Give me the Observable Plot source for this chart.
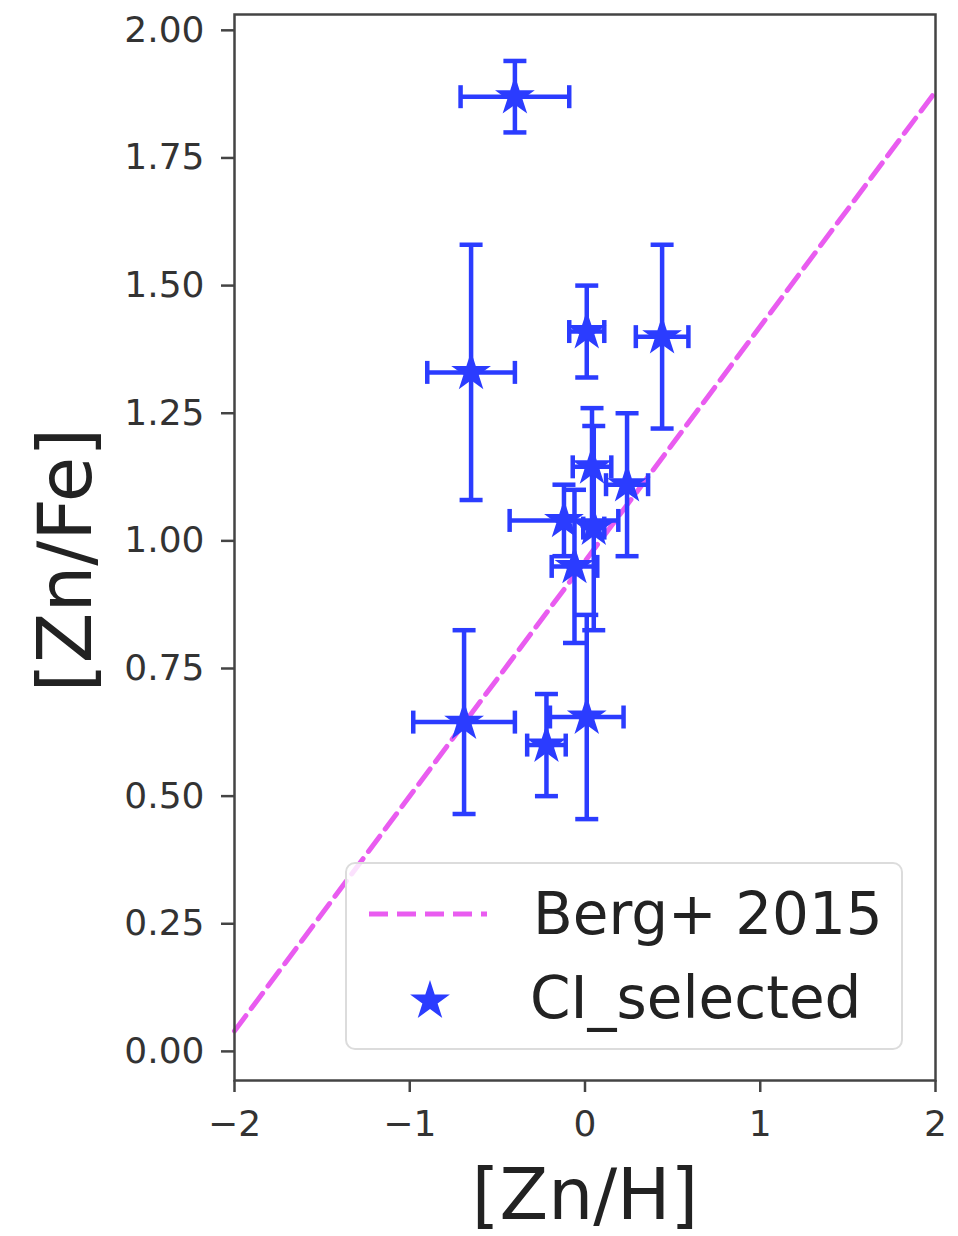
<!DOCTYPE html>
<html>
<head>
<meta charset="utf-8">
<script src="https://cdn.jsdelivr.net/npm/d3@7"></script>
<script src="https://cdn.jsdelivr.net/npm/@observablehq/plot@0.6"></script>
<style>
  html, body { margin: 0; padding: 0; background: #fff; }
  #wrap { position: relative; width: 958px; height: 1236px; overflow: hidden; font-family: "DejaVu Sans", sans-serif; }
  #legend { position: absolute; left: 345px; top: 862px; width: 558px; height: 188px;
    border: 2px solid #dcdcdc; border-radius: 10px; background: rgba(255,255,255,0.82); box-sizing: border-box; }
  .row { position: absolute; left: 0; height: 80px; display: flex; align-items: center; }
  .row svg { flex: none; }
  .row span { font-size: 58px; color: #222; white-space: nowrap; }
  .axlabel { position: absolute; color: #222; white-space: nowrap; line-height: 1; }
</style>
</head>
<body>
<div id="wrap"></div>
<script>
// [Zn/H] values and errors, [Zn/Fe] values and errors
const znH    = [-0.40, -0.65, 0.01, 0.44, 0.04, 0.24, -0.12, 0.05, -0.06, -0.69, -0.22, 0.01];
const znHErr = [ 0.31,  0.25, 0.10, 0.15, 0.11, 0.12,  0.31, 0.06,  0.13,  0.29,  0.11, 0.21];
const znFe   = [ 1.87,  1.33, 1.41, 1.40, 1.145, 1.11, 1.04, 1.025, 0.95, 0.645, 0.60, 0.655];
const znFeErr= [ 0.07,  0.25, 0.09, 0.18, 0.115, 0.14, 0.07, 0.20,  0.15, 0.18,  0.10, 0.20];
// Berg+ 2015 relation endpoints
const bergX = [-2, 2];
const bergY = [0.04, 1.88];
const xTicks = [-2, -1, 0, 1, 2];
const yTicks = [0, 0.25, 0.5, 0.75, 1.0, 1.25, 1.5, 1.75, 2.0];
const seriesLabels = ["Berg+ 2015", "CI_selected"];
const xLabel = "[Zn/H]";
const yLabel = "[Zn/Fe]";

const blue = "#2b3cff";
const magenta = "#e95cf0";

const pts = znH.map((x, i) => ({x, xe: znHErr[i], y: znFe[i], ye: znFeErr[i]}));
const berg = bergX.map((x, i) => ({x, y: bergY[i]}));

const hcap = { draw(ctx, size) { const r = Math.sqrt(size / Math.PI); ctx.moveTo(-r, 0); ctx.lineTo(r, 0); } };
const vcap = { draw(ctx, size) { const r = Math.sqrt(size / Math.PI); ctx.moveTo(0, -r); ctx.lineTo(0, r); } };

const fmtMinus = d => (d < 0 ? "\u2212" : "") + Math.abs(d);
const starR = 12.5;

const plot = Plot.plot({
  width: 958,
  height: 1236,
  marginLeft: 234,
  marginRight: 23,
  marginTop: 14,
  marginBottom: 156,
  style: { fontFamily: "DejaVu Sans", fontSize: "36px", color: "#333", background: "#fff" },
  x: { domain: [-2, 2] },
  y: { domain: [-0.057, 2.031] },
  marks: [
    Plot.line(berg, { x: "x", y: "y", stroke: magenta, strokeWidth: 5, strokeDasharray: "19,9" }),
    // error bars
    Plot.link(pts, { x1: d => d.x - d.xe, x2: d => d.x + d.xe, y1: "y", y2: "y", stroke: blue, strokeWidth: 4.5 }),
    Plot.link(pts, { x1: "x", x2: "x", y1: d => d.y - d.ye, y2: d => d.y + d.ye, stroke: blue, strokeWidth: 4.5 }),
    Plot.dot(pts, { x: "x", y: d => d.y + d.ye, symbol: hcap, r: 11.5, stroke: blue, fill: "none", strokeWidth: 4.5 }),
    Plot.dot(pts, { x: "x", y: d => d.y - d.ye, symbol: hcap, r: 11.5, stroke: blue, fill: "none", strokeWidth: 4.5 }),
    Plot.dot(pts, { x: d => d.x + d.xe, y: "y", symbol: vcap, r: 11.5, stroke: blue, fill: "none", strokeWidth: 4.5 }),
    Plot.dot(pts, { x: d => d.x - d.xe, y: "y", symbol: vcap, r: 11.5, stroke: blue, fill: "none", strokeWidth: 4.5 }),
    Plot.dot(pts, { x: "x", y: "y", symbol: "star", r: starR, fill: blue, stroke: "none" }),
    Plot.frame({ stroke: "#444", strokeWidth: 2.5 }),
    Plot.axisX({ ticks: xTicks, tickFormat: fmtMinus, tickSize: 12, tickPadding: 18, stroke: "#444", strokeWidth: 2.5, label: null, fill: "#333" }),
    Plot.axisY({ ticks: yTicks, tickFormat: d3.format(".2f"), tickSize: 13, tickPadding: 17, stroke: "#444", strokeWidth: 2.5, label: null, fill: "#333" })
  ]
});

const wrap = document.getElementById("wrap");
wrap.appendChild(plot);

// axis titles
const xl = document.createElement("div");
xl.className = "axlabel";
xl.textContent = xLabel;
xl.style.cssText = "font-size:71px;left:585px;top:1194px;transform:translate(-50%,-50%);";
wrap.appendChild(xl);

const yl = document.createElement("div");
yl.className = "axlabel";
yl.textContent = yLabel;
yl.style.cssText = "font-size:74px;left:65px;top:560px;transform:translate(-50%,-50%) rotate(-90deg);";
wrap.appendChild(yl);

const legend = document.createElement("div");
legend.id = "legend";
legend.innerHTML = `
  <div class="row" style="top:10px;left:22px;">
    <svg width="118" height="20"><line x1="0" y1="10" x2="118" y2="10" stroke="${magenta}" stroke-width="5" stroke-dasharray="19,9"/></svg>
    <span style="margin-left:46px">${seriesLabels[0]}</span>
  </div>
  <div class="row" style="top:94px;left:22px;">
    <svg width="118" height="44" viewBox="-59 -22 118 44"><path d="${d3.symbol(d3.symbolStar, Math.PI * starR * starR)()}" fill="${blue}" transform="translate(2,3)"/></svg>
    <span style="margin-left:43px">${seriesLabels[1]}</span>
  </div>`;
wrap.appendChild(legend);
</script>
</body>
</html>
